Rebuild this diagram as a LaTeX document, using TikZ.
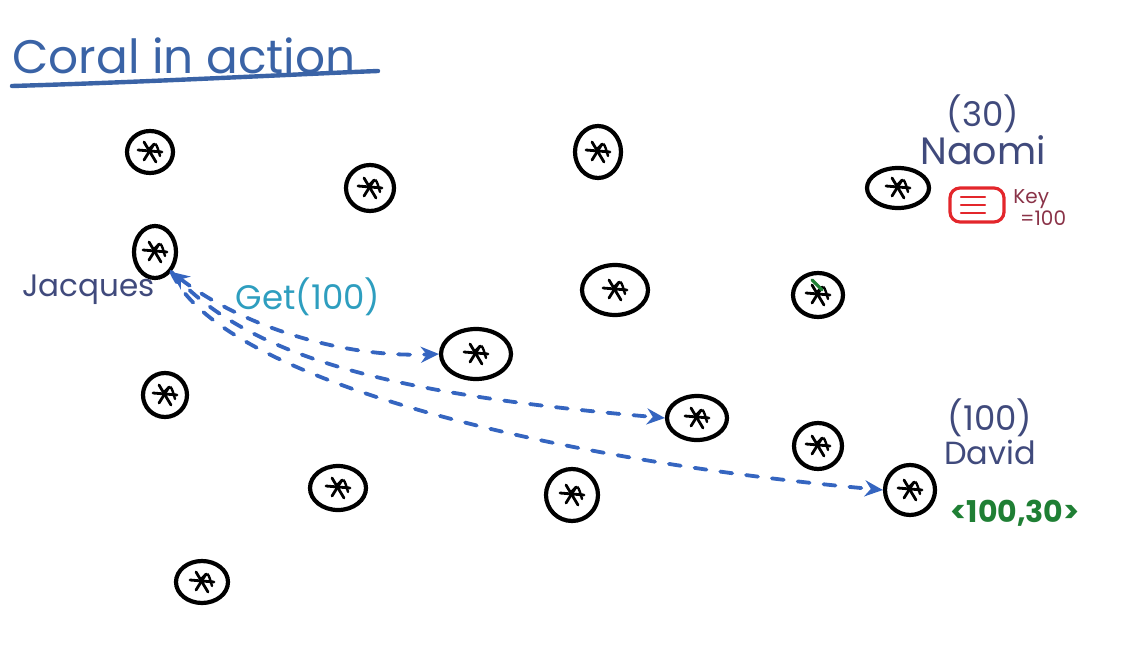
\documentclass[tikz,border=0pt]{standalone}
\usepackage{fontspec}
\setmainfont{Poppins}
\usetikzlibrary{arrows.meta,positioning,shapes.geometric,calc}
\definecolor{cTitle}{HTML}{3A63A6}
\definecolor{cName}{HTML}{404A7C}
\definecolor{cGet}{HTML}{2E9EBF}
\definecolor{cKey}{HTML}{E3262B}
\definecolor{cKeyTxt}{HTML}{8A3348}
\definecolor{cVal}{HTML}{1F7F34}
\definecolor{cRoute}{HTML}{3565C0}

% little hand-drawn mark inside each peer
\newcommand{\peermark}{%
  \coordinate (mc) at (path picture bounding box.center);
  \draw[line width=1.4pt, line cap=round] ($(mc)+(-6pt,1pt)$) -- ($(mc)+(6pt,0pt)$);
  \draw[line width=1.4pt, line cap=round] ($(mc)+(-3pt,5pt)$) -- ($(mc)+(3pt,-5pt)$);
  \draw[line width=1.4pt, line cap=round] ($(mc)+(-3pt,-4pt)$) -- ($(mc)+(2pt,4pt)$);
  \draw[line width=1.2pt, line cap=round] ($(mc)+(0pt,2pt)$) .. controls ($(mc)+(3pt,5pt)$) .. ($(mc)+(5pt,-2pt)$);
}
\newcommand{\keylines}{%
  \coordinate (kc) at (path picture bounding box.center);
  \foreach \dy in {4pt,0pt,-4pt}
    \draw[cKey, line width=1.2pt, line cap=round] ($(kc)+(-8pt,\dy)$) -- ($(kc)+(4pt,\dy)$);
}

\begin{document}
\begin{tikzpicture}[x=0.5pt, y=-0.5pt,
  >={Stealth[length=9pt,width=8pt]},
  peer/.style 2 args={ellipse, draw=black, line width=2.1pt, inner sep=0pt,
     minimum width=#1pt, minimum height=#2pt, path picture={\peermark}},
  who/.style={text=cName, font=\fontsize{17}{19}\selectfont, inner sep=0pt},
  route/.style={->, draw=cRoute, line width=1.9pt, dashed, dash pattern=on 6pt off 7pt, line cap=round},
]
\useasboundingbox (0,0) rectangle (1133,668);

% title
\node[text=cTitle, font=\fontsize{23.5}{26}\selectfont, anchor=west, inner sep=0pt] (title) at (12,56) {Coral in action};
\draw[cTitle, line width=2.2pt, line cap=round] (12,86) .. controls (150,82) and (300,74) .. (378,71);

% peers
\node[peer={23}{21}] (p1) at (150,152) {};
\node[peer={24}{23}] (p2) at (370,188) {};
\node[peer={23}{26}] (p3) at (598,152) {};
\node[peer={31}{20}] (naomi) at (898,188) {};
\node[peer={21}{26}] (jacques) at (155,252) {};
\node[peer={33}{25}] (p6) at (615,290) {};
\node[peer={25}{22}] (p7) at (818,295) {};
\node[peer={35}{25}] (p8) at (476,354) {};
\node[peer={22}{22}] (p9) at (165,395) {};
\node[peer={30}{22}] (p10) at (697,418) {};
\node[peer={24}{23}] (p11) at (818,446) {};
\node[peer={28}{22}] (p12) at (338,488) {};
\node[peer={26}{26}] (p13) at (572,495) {};
\node[peer={25}{25}] (david) at (910,490) {};
\node[peer={26}{21}] (p15) at (202,582) {};
\draw[cVal, line width=1.6pt, line cap=round] (812,280) -- (822,290);

% labels
\node[who, font=\fontsize{15.5}{18}\selectfont, anchor=east] (jname) at (155,290) {Jacques};
\node[who, font=\fontsize{19}{21}\selectfont] (nname) at (983,150) {Naomi};
\node[who, above=1pt of nname] (nid) {(30)};
\node[who, font=\fontsize{16}{18}\selectfont] (dname) at (990,452) {David};
\node[who, above=1pt of dname] (did) {(100)};
\node[text=cGet, font=\fontsize{17}{19}\selectfont, inner sep=0pt] (get) at (308,297) {Get(100)};
\node[text=cVal, font=\fontsize{15}{17}\selectfont\bfseries, inner sep=0pt] (val) at (1015,513) {<100,30>};

% stored key
\node[draw=cKey, line width=1.6pt, rounded corners=5pt, minimum width=27pt, minimum height=17pt,
      inner sep=0pt, path picture={\keylines}] (key) at (977,205) {};
\node[text=cKeyTxt, font=\fontsize{10}{11}\selectfont, align=left, anchor=west, inner sep=0pt]
  (keytxt) at (1013,208) {Key\\\,\,=100};

% lookup routes
\draw[route, <->] (jacques.south east) .. controls (240,325) and (340,358) .. (p8.west);
\draw[route] (jacques.south east) .. controls (250,360) and (400,395) .. (p10.west);
\draw[route] (jacques.south east) .. controls (220,380) and (550,460) .. (david.west);

\end{tikzpicture}
\end{document}
